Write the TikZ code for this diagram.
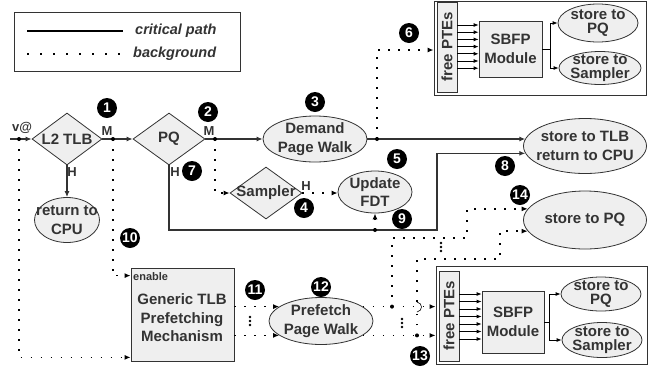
\documentclass[tikz,border=0pt]{standalone}
\usepackage{fontspec}
\setmainfont{Liberation Sans}
\usepackage{tikz}
\usetikzlibrary{shapes.geometric,arrows.meta}
\definecolor{ink}{HTML}{333333}
\definecolor{shade}{HTML}{EFEFEF}

\begin{document}
\begin{tikzpicture}[x=1pt,y=-1pt,
    txt/.style={font=\fontsize{15}{18.5}\selectfont\bfseries, text=ink, align=center, inner sep=0},
    txtsm/.style={font=\fontsize{15}{14}\selectfont\bfseries, text=ink, align=center, inner sep=0},
    tag/.style={font=\fontsize{13}{13}\selectfont\bfseries, text=ink, inner sep=0},
    ell/.style={ellipse, draw=ink, line width=0.8pt, fill=shade, inner sep=0},
    dia/.style={diamond, draw=ink, line width=0.8pt, fill=shade, inner sep=0},
    blk/.style={rectangle, draw=ink, line width=0.8pt, fill=shade, inner sep=0},
    frame/.style={rectangle, draw=ink, line width=0.9pt, fill=white, inner sep=0},
    num/.style={circle, fill=black, text=white, inner sep=0, minimum size=20, font=\fontsize{14}{14}\selectfont\bfseries},
    crit/.style={draw=ink, line width=1.1pt, -{Latex[length=6pt,width=5pt]}},
    arr/.style={draw=black, line width=0.8pt, -{Latex[length=5pt,width=4pt]}},
    bg/.style={draw=black, line width=1.6pt, dash pattern=on 1.6pt off 8.4pt, -{Latex[length=6pt,width=5pt]}},
    jdot/.style={circle, fill=black, inner sep=0, minimum size=4}]
    \useasboundingbox (0,0) rectangle (662,373);

    \draw[ink, line width=0.8pt] (14,12) rectangle (240,71);
    \coordinate (lc1) at (27,31);
    \coordinate (lc2) at (123,31);
    \coordinate (lb1) at (27,54);
    \coordinate (lb2) at (125,54);
    \draw[black, line width=2.6pt] (lc1) -- (lc2);
    \draw[black, line width=2.4pt, dash pattern=on 2.4pt off 10.6pt] (lb1) -- (lb2);
    \node[txt, anchor=west, font=\fontsize{14.5}{18}\selectfont\bfseries\itshape] (lcrit) at (135,31) {critical path};
    \node[txt, anchor=west, font=\fontsize{14.5}{18}\selectfont\bfseries\itshape] (lback) at (133,54) {background};

    \node[dia, minimum width=70, minimum height=52] (tlb) at (67,139) {};
    \node[txt] (tlb-t) at (tlb) {L2 TLB};
    \node[dia, minimum width=72, minimum height=52] (pq) at (169,139) {};
    \node[txt] (pq-t) at (pq) {PQ};
    \node[dia, minimum width=72, minimum height=52] (smp) at (266,193) {};
    \node[txt] (smp-t) at (smp) {Sampler};
    \node[ell, minimum width=65, minimum height=45] (cpu) at (67,220) {};
    \node[txt] (cpu-t) at (cpu) {return to\\CPU};
    \node[ell, minimum width=104, minimum height=46] (dpw) at (315,139) {};
    \node[txt] (dpw-t) at (dpw) {Demand\\Page Walk};
    \node[ell, minimum width=74, minimum height=42] (fdt) at (375,192) {};
    \node[txt] (fdt-t) at (fdt) {Update\\FDT};
    \node[ell, minimum width=123, minimum height=55] (ret) at (585,146) {};
    \node[txt] (ret-t) at (ret) {store to TLB\\return to CPU};
    \node[ell, minimum width=123, minimum height=58] (spq) at (585,220) {};
    \node[txt] (spq-t) at (spq) {store to PQ};
    \node[blk, minimum width=103, minimum height=93] (gen) at (182.5,314.5) {};
    \node[txt] (gen-t) at (182,318) {Generic TLB\\Prefetching\\Mechanism};
    \node[tag, anchor=base west, font=\fontsize{11}{11}\selectfont\bfseries] (gen-en) at (133,280) {enable};
    \node[ell, minimum width=104, minimum height=47] (pfw) at (321,321) {};
    \node[txt] (pfw-t) at (pfw) {Prefetch\\Page Walk};

    \node[frame, minimum width=212, minimum height=94] (tbox) at (540,48) {};
    \node[blk, minimum width=20, minimum height=90] (tpte) at (447,47) {};
    \node[txt, rotate=90] (tpte-t) at (tpte) {free PTEs};
    \node[blk, txt, minimum width=63, minimum height=56] (tsbfp) at (510.5,49) {SBFP\\Module};
    \node[ell, minimum width=80, minimum height=38] (tspq) at (598,23) {};
    \node[txtsm] (tspq-t) at (tspq) {store to\\PQ};
    \node[ell, minimum width=82, minimum height=33] (tssmp) at (600,68) {};
    \node[txtsm] (tssmp-t) at (tssmp) {store to\\Sampler};

    \node[frame, minimum width=211, minimum height=98] (bbox) at (541.5,315) {};
    \node[blk, minimum width=20, minimum height=90] (bpte) at (449,316) {};
    \node[txt, rotate=90] (bpte-t) at (bpte) {free PTEs};
    \node[blk, txt, minimum width=62, minimum height=62] (bsbfp) at (513,322) {SBFP\\Module};
    \node[ell, minimum width=80, minimum height=34] (bspq) at (601,294) {};
    \node[txtsm] (bspq-t) at (bspq) {store to\\PQ};
    \node[ell, minimum width=80, minimum height=35] (bssmp) at (602,340) {};
    \node[txtsm] (bssmp-t) at (bssmp) {store to\\Sampler};

    \node[tag] (vat) at (22,128) {v@};
    \node[tag] (tlb-m) at (107,131) {M};
    \node[tag] (tlb-h) at (72,172) {H};
    \node[tag] (pq-m) at (209,131) {M};
    \node[tag] (pq-h) at (175,172) {H};
    \node[tag] (smp-h) at (306,186) {H};

    \coordinate (vin) at (10,139);
    \coordinate (vj) at (19,139);
    \coordinate (tj) at (113,139);
    \coordinate (pj) at (215,139);
    \coordinate (dj) at (377,139);
    \coordinate (hc) at (437,230);
    \coordinate (fj) at (fdt.south |- hc);
    \coordinate (ju) at (pfw.19 -| 392,0);
    \coordinate (jl) at (pfw.-19 -| 417,0);
    \coordinate (c1) at (467,238);
    \coordinate (c2) at (500,259);
    \coordinate (br1) at (417,312);
    \coordinate (br2) at (417,302);

    \draw[crit] (vin) -- (tlb.west);
    \draw[crit] (tlb.east) -- (pq.west);
    \draw[crit] (tlb.south) -- (cpu.north);
    \draw[crit] (pq.east) -- (dpw.west);
    \draw[crit] (dpw.east) -- (dpw.east -| ret.173);
    \draw[crit] (pq.south) |- (hc) |- (ret.187);

    \draw[bg] (vj) |- ([yshift=4pt]gen.south west);
    \draw[bg] (tj) |- ([yshift=-8pt]gen.north west);
    \draw[bg] (pj) |- (smp.west);
    \draw[bg] (smp.east) -- (fdt.west |- smp.east);
    \draw[bg] (fj) -- (fdt.south);
    \draw[bg] (dj) |- ([yshift=-2pt]tbox.west);
    \draw[bg] (gen.east |- pfw.161) -- (pfw.161);
    \draw[bg] (gen.east |- pfw.199) -- (pfw.199);
    \draw[bg] (pfw.19) -- (bbox.west |- pfw.19);
    \draw[bg] (pfw.-19) -- (bbox.west |- pfw.-19);
    \draw[bg] (ju) |- (c1) |- (spq.169);
    \draw[bg, -] (jl) -- (br1);
    \draw[black, line width=0.6pt] (br1) .. controls (423,311) and (423,303) .. (br2);
    \draw[bg] (br2) |- (c2) |- (spq.191);

    \foreach \p in {vj,tj,pj,dj,fj,ju,jl}
        \node[jdot] (d-\p) at (\p) {};
    \foreach \x/\y in {250/321,402/323,441/247}
        \foreach \d in {-4,0,4}
            \fill (\x,\y+\d) circle (1.4);

    \foreach \i in {0,...,6}
        \draw[arr] (tpte.east |- 0,25+7.2*\i) -- (tsbfp.west |- 0,25+7.2*\i);
    \foreach \i in {0,...,6}
        \draw[arr] (bpte.east |- 0,294+7.5*\i) -- (bsbfp.west |- 0,294+7.5*\i);
    \coordinate (tsplit) at ([xshift=8pt]tsbfp.east);
    \coordinate (bsplit) at ([xshift=5pt]bsbfp.east);
    \draw[arr] (tsbfp.east) -- (tsplit) |- (tspq.west);
    \draw[arr] (tsplit) |- (tssmp.west);
    \draw[arr] (bsbfp.east) -- (bsplit) |- (bspq.west);
    \draw[arr] (bsplit) |- (bssmp.west);

    \foreach \n/\x/\y in {1/107/108, 2/208/112, 3/315/102, 4/304/208, 5/397/159, 6/409/33, 7/192/171,
        8/505/166, 9/402/219, 10/130/238, 11/255/290, 12/321/287, 13/420/356, 14/520/195}
        \node[num] (n\n) at (\x,\y) {\n};
\end{tikzpicture}
\end{document}
